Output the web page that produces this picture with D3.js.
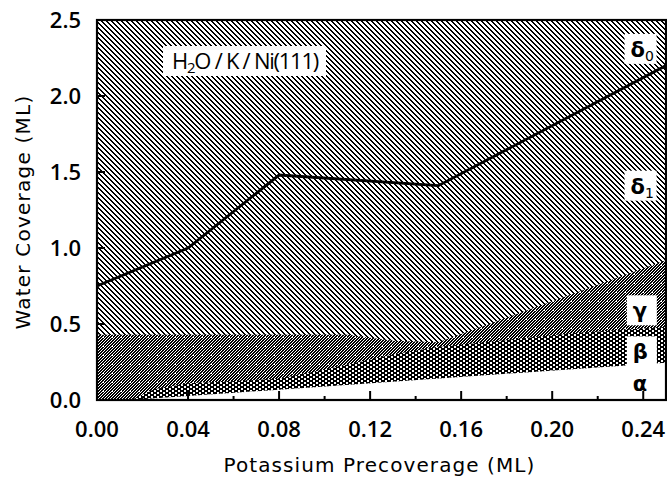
<!DOCTYPE html>
<html><head><meta charset="utf-8">
<script src="https://cdn.jsdelivr.net/npm/d3@7"></script>
<style>
body{margin:0;background:#fff;}
text{fill:#000;}
</style></head>
<body><svg id="c" width="667" height="477"></svg>
<script>
// ---- data ----
const boundaryX = [0, 0.04, 0.08, 0.15, 0.25];          // delta1 / delta0 boundary
const boundaryY = [0.75, 1.0, 1.48, 1.41, 2.2];
const gammaTopX = [0, 0.11, 0.13, 0.15, 0.25];
const gammaTopY = [0.43, 0.43, 0.39, 0.38, 0.92];
const betaTopX = [0.015, 0.025, 0.04, 0.08, 0.10, 0.13, 0.15, 0.21, 0.25];
const betaTopY = [0.0, 0.07, 0.11, 0.14, 0.20, 0.30, 0.35, 0.44, 0.48];
const betaBotX = [0.015, 0.25];
const betaBotY = [0.0, 0.245];
const xTicks = [0, 0.04, 0.08, 0.12, 0.16, 0.20, 0.24];
const xMinor = [0.02, 0.06, 0.10, 0.14, 0.18, 0.22];
const yTicks = [0, 0.5, 1.0, 1.5, 2.0, 2.5];
const regionNames = ["δ", "δ", "γ", "β", "α"];
const regionSubs  = ["0", "1", "", "", ""];
const regionX     = [0.2375, 0.2375, 0.2385, 0.2385, 0.2385];
const regionY     = [2.31, 1.41, 0.59, 0.32, 0.11];

// ---- layout ----
const L=97, R=666, T=20, B=400;
const SANS = '"Open Sans","Noto Sans",sans-serif';
const DJ = '"DejaVu Sans",sans-serif';
const svg = d3.select("#c");
const x = d3.scaleLinear().domain([0,0.25]).range([L,R]);
const y = d3.scaleLinear().domain([0,2.5]).range([B,T]);

const defs = svg.append("defs");
function pat(id,w,h,bg){
  const p = defs.append("pattern").attr("id",id).attr("patternUnits","userSpaceOnUse")
    .attr("width",w).attr("height",h);
  p.append("rect").attr("width",w).attr("height",h).attr("fill",bg);
  return p;
}
function px(p,x0,y0,w,h,c){
  p.append("rect").attr("x",x0).attr("y",y0).attr("width",w).attr("height",h).attr("fill",c).attr("shape-rendering","crispEdges");
}
// delta: sparse "\" hatch
const p1 = pat("hd",5,5,"#fff");
d3.range(5).forEach(i=>{ px(p1,i,i,2,1,"#000"); });
px(p1,0,4,1,1,"#000");
// gamma: dense "/" hatch (period 3 px, 2 px thick) with sparse light speckles
const p2 = pat("hg",9,9,"#fff");
d3.range(9).forEach(i=>{
  [0,3,6].forEach(o=>{
    const xx = ((8 - i + o) % 9 + 9) % 9;
    px(p2,xx,i,Math.min(2,9-xx),1,"#000");
    if(xx+2>9) px(p2,0,i,xx+2-9,1,"#000");
  });
});
px(p2,4,4,1,1,"#fff");
// beta: oval mesh
const p3 = pat("hb",6,4,"#000");
[[1,0],[4,2]].forEach(c=>{ px(p3,c[0],c[1],2,2,"#fff"); });

const clip = defs.append("clipPath").attr("id","pc");
clip.append("rect").attr("x",L).attr("y",T).attr("width",R-L).attr("height",B-T);

const g = svg.append("g").attr("clip-path","url(#pc)");
g.append("rect").attr("x",L).attr("y",T).attr("width",R-L).attr("height",B-T).attr("fill","url(#hd)");

const zip = (xs,ys)=>xs.map((v,i)=>[v,ys[i]]);
const area0 = d3.area().x(d=>x(d[0])).y0(y(0)).y1(d=>y(d[1]));
g.append("path").datum(zip(gammaTopX,gammaTopY)).attr("d",area0).attr("fill","url(#hg)");

const interpBot = d3.scaleLinear().domain(betaBotX).range(betaBotY);
const bandArea = d3.area().x(d=>x(d[0])).y0(d=>y(interpBot(d[0]))).y1(d=>y(d[1]));
g.append("path").datum(zip(betaTopX,betaTopY)).attr("d",bandArea).attr("fill","url(#hb)");
g.append("path").datum(zip(betaBotX,betaBotY)).attr("d",area0).attr("fill","#fff");

g.append("path").datum(zip(boundaryX,boundaryY))
  .attr("d",d3.line().x(d=>x(d[0])).y(d=>y(d[1])))
  .attr("fill","none").attr("stroke","#000").attr("stroke-width",2.8);

function fitSpacing(sel, target, nChars){
  const w = sel.node().getBBox().width;
  sel.attr("letter-spacing", (target - w) / nChars);
}

// title box
const tg = svg.append("g");
tg.append("rect").attr("x",163).attr("y",46).attr("width",163).attr("height",30).style("fill","#ffffff");
const tt = tg.append("text").attr("x",172).attr("y",69).style("font-family",SANS).style("font-size","22px")
  .style("font-weight",500);
tt.append("tspan").text("H");
tt.append("tspan").style("font-size","15px").attr("dy",4).text("2");
tt.append("tspan").attr("dy",-4).text("O / K / Ni(111)");
fitSpacing(tt, 146, 17);

// region labels
regionNames.forEach((name,i)=>{
  const cx = x(regionX[i]), cy = y(regionY[i]);
  if(name!=="α"){
    svg.append("rect").attr("x",cx-13).attr("y",cy-15).attr("width",regionSubs[i]?32:30).attr("height",30).style("fill","#ffffff");
  }
  const t = svg.append("text").attr("x",cx-7).attr("y",cy+8).style("font-family",DJ).style("font-size","21px").style("font-weight",700);
  t.append("tspan").text(name);
  if(regionSubs[i]) t.append("tspan").style("font-size","14px").style("font-weight",400).attr("dy",4).text(regionSubs[i]);
});

// ticks (inward)
const ax = svg.append("g");
ax.selectAll(".xt").data(xTicks).join("line")
  .attr("x1",d=>x(d)).attr("x2",d=>x(d)).attr("y1",B).attr("y2",B-9).attr("stroke","#000").attr("stroke-width",2);
ax.selectAll(".xm").data(xMinor).join("line")
  .attr("x1",d=>x(d)).attr("x2",d=>x(d)).attr("y1",B).attr("y2",B-4).attr("stroke","#000").attr("stroke-width",2);
ax.selectAll(".yt").data(yTicks).join("line")
  .attr("x1",L).attr("x2",L+8).attr("y1",d=>y(d)).attr("y2",d=>y(d)).attr("stroke","#000").attr("stroke-width",2);
svg.append("rect").attr("x",L).attr("y",T).attr("width",R-L).attr("height",B-T)
  .attr("fill","none").attr("stroke","#000").attr("stroke-width",2.2);

// tick labels
ax.selectAll(".xl").data(xTicks).join("text")
  .attr("x",d=>x(d)).attr("y",437).attr("text-anchor","middle")
  .style("font-family",SANS).style("font-size","22px").style("font-weight",600)
  .text(d=>d3.format(".2f")(d));
ax.selectAll(".yl").data(yTicks).join("text")
  .attr("x",81).attr("y",d=>y(d)+8).attr("text-anchor","end")
  .style("font-family",SANS).style("font-size","22px").style("font-weight",600)
  .text(d=>d3.format(".1f")(d));

// axis titles
const xt = svg.append("text").attr("x",(L+R)/2 - 2).attr("y",472).attr("text-anchor","middle")
  .style("font-family",DJ).style("font-size","20px").text("Potassium Precoverage (ML)");
fitSpacing(xt, 312, 26);
const yt = svg.append("text").attr("transform","translate(30,212) rotate(-90)").attr("text-anchor","middle")
  .style("font-family",DJ).style("font-size","20px").text("Water Coverage (ML)");
fitSpacing(yt, 235, 19);
</script></body></html>
